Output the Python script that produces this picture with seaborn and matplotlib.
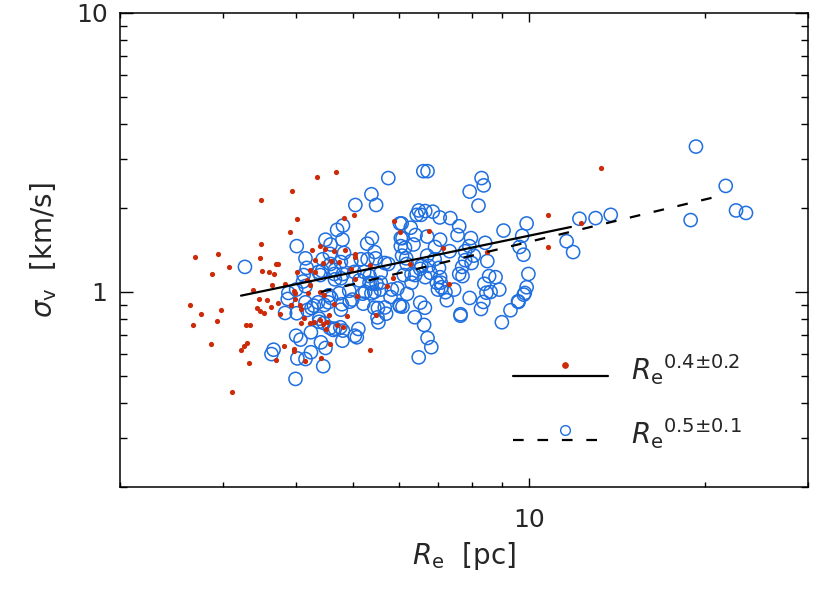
import matplotlib
matplotlib.use('Agg')
import matplotlib.pyplot as plt
import matplotlib.ticker as mticker
import seaborn as sns

# red sample: filled dots (R_e in pc, sigma_v in km/s)
red_re = [4.35, 4.68, 3.94, 3.49, 4.02, 3.90, 3.49, 2.69, 2.94, 3.47,
          3.70, 3.73, 3.07, 2.87, 3.50, 3.59, 3.67, 3.64, 3.83, 3.38,
          2.63, 2.75, 2.98, 2.67, 2.93, 2.86, 3.11, 3.45, 3.57, 3.73,
          3.43, 3.47, 3.53, 3.63, 3.76, 3.92, 3.28, 3.33, 3.30, 3.26,
          3.22, 3.32, 3.81, 3.70, 3.96, 3.96, 4.14, 4.41, 4.57, 4.02,
          4.23, 4.30, 4.26, 4.40, 4.48, 4.64, 4.84, 5.05, 5.05, 4.82,
          5.02, 5.89, 6.03, 6.75, 7.13, 7.29, 4.97, 5.35, 4.44, 4.30,
          4.59, 4.73, 4.17, 4.23, 3.96, 3.99, 4.19, 4.46, 4.40, 4.06,
          3.99, 4.07, 4.29, 4.23, 4.08, 4.55, 4.89, 4.64, 5.05, 5.09,
          5.72, 5.85, 6.26, 5.47, 5.35, 4.50, 4.69, 4.45, 4.81, 4.13,
          4.40, 4.51, 3.92, 8.48, 13.3, 10.8, 12.3, 10.8]
red_sigma = [2.58, 2.69, 2.31, 2.14, 1.83, 1.64, 1.49, 1.33, 1.37, 1.32,
             1.26, 1.26, 1.23, 1.16, 1.19, 1.18, 1.16, 1.06, 1.07, 1.02,
             0.898, 0.832, 0.860, 0.764, 0.785, 0.653, 0.437, 0.942, 0.934, 0.913,
             0.874, 0.853, 0.839, 0.885, 0.832, 0.898, 0.760, 0.760, 0.658, 0.641,
             0.621, 0.557, 0.638, 0.569, 0.625, 0.612, 0.566, 0.579, 0.649, 1.18,
             1.20, 1.18, 1.41, 1.46, 1.43, 1.40, 1.41, 1.37, 1.34, 1.84,
             1.88, 1.79, 1.64, 1.66, 1.44, 1.07, 1.21, 1.25, 1.27, 1.30,
             1.29, 1.28, 1.10, 1.06, 1.01, 0.99, 0.99, 0.973, 1.00, 0.896,
             0.942, 0.869, 0.779, 0.777, 0.771, 0.829, 0.817, 0.906, 1.11, 0.964,
             1.05, 1.12, 1.26, 0.830, 0.620, 0.739, 0.764, 0.768, 0.746, 0.809,
             0.794, 0.779, 0.900, 1.39, 2.78, 1.89, 1.77, 1.45]

# blue sample: open circles
blue_re = [3.27, 4.01, 5.75, 5.38, 5.48, 5.05, 6.60, 6.71, 7.92, 8.30,
           8.37, 8.20, 4.81, 4.70, 4.80, 4.49, 4.58, 5.39, 5.29, 5.45,
           5.47, 4.15, 4.17, 4.44, 4.57, 4.83, 4.97, 5.16, 5.30, 4.58,
           4.77, 5.75, 5.67, 6.02, 6.04, 6.04, 6.07, 4.37, 4.12, 4.66,
           4.65, 4.81, 5.03, 5.23, 5.58, 4.40, 4.43, 5.13, 3.87, 3.88,
           4.00, 4.11, 4.15, 4.36, 4.29, 4.25, 4.18, 4.55, 4.59, 4.74,
           4.93, 4.99, 4.94, 5.20, 5.25, 5.21, 5.34, 5.39, 5.49, 5.58,
           5.38, 5.44, 5.58, 5.80, 5.67, 5.52, 5.44, 5.70, 5.51, 5.53,
           6.01, 4.01, 4.77, 4.38, 4.46, 4.57, 4.63, 4.66, 4.76, 4.24,
           4.38, 4.81, 5.11, 5.04, 5.08, 4.80, 4.00, 4.07, 4.41, 4.49,
           4.24, 4.02, 4.15, 4.45, 3.99, 6.48, 6.43, 6.54, 6.65, 6.85,
           7.04, 7.34, 6.06, 6.28, 6.40, 7.60, 7.55, 6.08, 6.35, 6.14,
           6.17, 6.18, 6.70, 7.05, 6.91, 6.70, 7.32, 7.96, 7.91, 7.78,
           9.05, 8.42, 8.05, 8.49, 7.98, 7.78, 7.69, 6.90, 6.74, 6.55,
           6.30, 6.39, 6.79, 7.05, 7.60, 7.70, 8.55, 8.77, 6.11, 6.65,
           6.52, 5.83, 5.96, 6.19, 6.30, 6.96, 7.07, 7.09, 6.99, 7.20,
           7.45, 7.24, 7.92, 8.90, 8.39, 8.46, 8.60, 8.36, 8.28, 9.30,
           9.58, 8.99, 6.02, 6.08, 6.52, 6.64, 6.38, 6.62, 7.64, 7.64,
           6.71, 6.81, 6.48, 19.3, 21.7, 22.6, 23.5, 18.9, 12.2, 13.0,
           13.8, 11.6, 11.9, 9.91, 9.74, 9.64, 9.79, 9.98, 9.91, 9.84,
           9.80, 9.60, 3.66, 3.63, 3.83, 4.77, 4.66, 5.34, 4.79, 4.47,
           4.54, 4.15, 7.02]
blue_sigma = [1.23, 1.46, 2.56, 2.24, 2.05, 2.05, 2.71, 2.71, 2.29, 2.56,
              2.41, 2.04, 1.73, 1.67, 1.54, 1.54, 1.48, 1.56, 1.49, 1.39,
              1.32, 1.32, 1.22, 1.31, 1.37, 1.38, 1.29, 1.31, 1.31, 1.26,
              1.28, 1.26, 1.27, 1.76, 1.56, 1.46, 1.35, 1.18, 1.15, 1.20,
              1.16, 1.16, 1.18, 1.18, 1.17, 1.15, 1.19, 1.10, 0.944, 0.992,
              1.02, 1.09, 1.05, 0.918, 0.893, 0.876, 0.862, 0.973, 0.952, 0.989,
              1.01, 0.939, 0.923, 0.986, 1.00, 0.908, 1.08, 1.07, 1.07, 1.08,
              0.989, 1.00, 1.02, 0.96, 0.880, 0.876, 0.878, 0.836, 0.811, 0.779,
              0.898, 0.839, 0.864, 0.802, 0.774, 0.743, 0.731, 0.739, 0.747, 0.717,
              0.782, 0.727, 0.737, 0.697, 0.688, 0.669, 0.697, 0.675, 0.660, 0.630,
              0.608, 0.578, 0.575, 0.542, 0.488, 1.96, 1.89, 1.89, 1.95, 1.94,
              1.85, 1.84, 1.76, 1.70, 1.60, 1.72, 1.60, 1.56, 1.48, 1.44,
              1.32, 1.26, 1.58, 1.54, 1.45, 1.35, 1.40, 1.56, 1.46, 1.40,
              1.66, 1.50, 1.35, 1.29, 1.27, 1.30, 1.23, 1.31, 1.24, 1.24,
              1.16, 1.15, 1.17, 1.13, 1.16, 1.14, 1.14, 1.13, 1.15, 1.13,
              1.21, 1.02, 1.03, 0.984, 1.08, 1.08, 1.08, 1.04, 1.02, 0.998,
              1.02, 0.934, 0.952, 1.02, 1.07, 0.994, 1.00, 0.921, 0.869, 0.860,
              0.926, 0.779, 0.889, 0.886, 0.916, 0.878, 0.812, 0.762, 0.832, 0.822,
              0.684, 0.634, 0.583, 3.32, 2.40, 1.96, 1.92, 1.81, 1.83, 1.84,
              1.89, 1.52, 1.39, 1.76, 1.59, 1.45, 1.36, 1.16, 1.04, 0.992,
              0.978, 0.921, 0.621, 0.599, 0.841, 1.12, 1.11, 1.14, 0.904, 0.898,
              0.918, 0.918, 1.22]

# power-law fits, end points
fit_red_re = [3.22, 11.8]
fit_red_sigma = [0.97, 1.71]
fit_blue_re = [4.41, 21.2]
fit_blue_sigma = [1.00, 2.21]

x_ticks = [10]
y_ticks = [1, 10]
legend_labels = [r'${R_{\rm e}}^{0.4{\pm}0.2}$', r'${R_{\rm e}}^{0.5{\pm}0.1}$']

RED = '#cc2a08'
BLUE = '#1f6fe0'

sns.set_style('ticks')
plt.rcParams['font.family'] = ['DejaVu Sans']
plt.rcParams['mathtext.fontset'] = 'dejavusans'

fig = plt.figure(figsize=(8.25, 5.9), dpi=100)
ax = fig.add_axes([0.1455, 0.1746, 0.8339, 0.8034])

sns.scatterplot(x=blue_re, y=blue_sigma, ax=ax, marker='o', s=90,
                facecolors='none', edgecolors=BLUE, linewidths=1.1, zorder=2)
sns.scatterplot(x=red_re, y=red_sigma, ax=ax, marker='o', s=14,
                color=RED, edgecolor=RED, linewidth=0, zorder=3)
sns.lineplot(x=fit_red_re, y=fit_red_sigma, ax=ax, color='black', lw=1.6, zorder=4)
sns.lineplot(x=fit_blue_re, y=fit_blue_sigma, ax=ax, color='black', lw=1.6,
             linestyle=(0, (4.8, 6.2)), zorder=4)

ax.set_xscale('log')
ax.set_yscale('log')
ax.set_xlim(2, 30)
ax.set_ylim(0.2, 10)

fmt = mticker.FuncFormatter(lambda v, p: '%g' % v)
ax.xaxis.set_major_locator(mticker.FixedLocator(x_ticks))
ax.yaxis.set_major_locator(mticker.FixedLocator(y_ticks))
ax.xaxis.set_minor_locator(mticker.LogLocator(subs=range(2, 10)))
ax.yaxis.set_minor_locator(mticker.LogLocator(subs=range(2, 10)))
ax.xaxis.set_major_formatter(fmt)
ax.yaxis.set_major_formatter(fmt)
ax.xaxis.set_minor_formatter(mticker.NullFormatter())
ax.yaxis.set_minor_formatter(mticker.NullFormatter())

ax.tick_params(which='both', direction='in', top=True, right=True, width=1.0, color='black')
ax.tick_params(axis='x', which='major', length=6.5, pad=15, labelsize=18)
ax.tick_params(axis='x', which='minor', length=3.3)
ax.tick_params(axis='y', which='major', length=9.4, pad=9, labelsize=18)
ax.tick_params(axis='y', which='minor', length=4.7)
for sp in ax.spines.values():
    sp.set_linewidth(1.1)
    sp.set_color('black')

ax.set_xlabel(r'$R_{\rm e}$  [pc]', fontsize=20, labelpad=6)
ax.set_ylabel(r'$\sigma_{\rm v}$  [km/s]', fontsize=20, labelpad=12)

# hand-made legend, IDL style
ax.plot([0.571, 0.709], [0.234, 0.234], transform=ax.transAxes, color='black', lw=1.6)
ax.plot([0.647], [0.258], 'o', ms=3.8, color=RED, mec=RED, transform=ax.transAxes)
ax.text(0.743, 0.247, legend_labels[0], transform=ax.transAxes, fontsize=20, va='center')
ax.plot([0.571, 0.709], [0.099, 0.099], transform=ax.transAxes, color='black', lw=1.6,
        linestyle=(0, (4.8, 6.2)))
ax.plot([0.647], [0.120], 'o', ms=7, mfc='none', mec=BLUE, mew=1.0, transform=ax.transAxes)
ax.text(0.743, 0.112, legend_labels[1], transform=ax.transAxes, fontsize=20, va='center')

fig.savefig('out.png', dpi=100)
